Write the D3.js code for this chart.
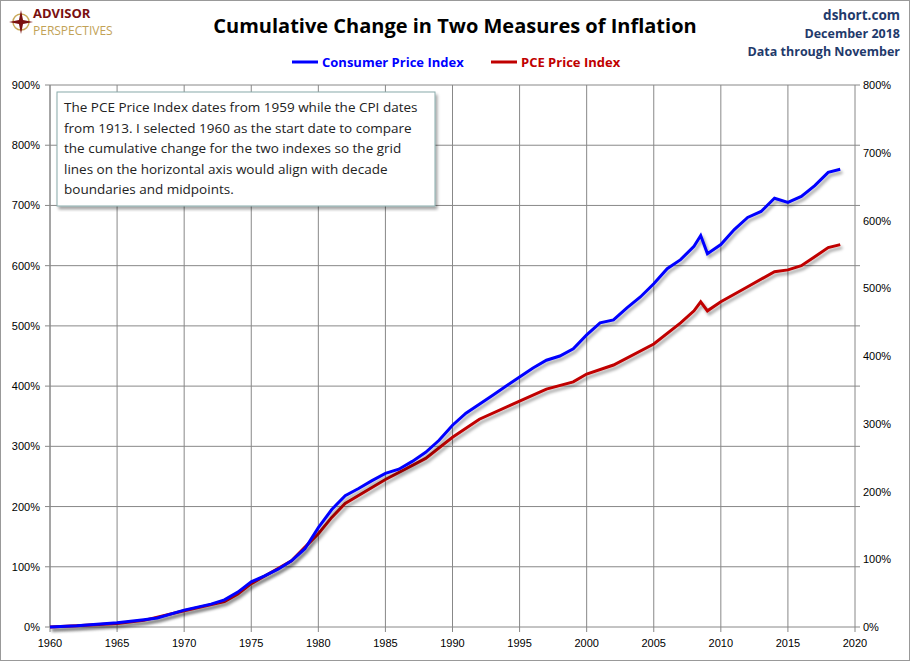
<!DOCTYPE html><html><head><meta charset="utf-8"><script src="https://cdn.jsdelivr.net/npm/d3@7"></script>
<style>body{margin:0;background:#fff;font-family:"Liberation Sans",Arial,sans-serif}</style></head><body>
<svg id="c" width="910" height="661"></svg>
<script>
const cpiYears=[1960,1962,1965,1967,1968,1970,1972,1973,1974,1975,1976,1977,1978,1979,1980,1981,1982,1983,1984,1985,1986,1987,1988,1989,1990,1991,1992,1993,1994,1995,1996,1997,1998,1999,2000,2001,2002,2003,2004,2005,2006,2007,2008,2008.5,2009,2010,2011,2012,2013,2014,2015,2016,2017,2018,2018.9];
const cpiValues=[0,2,7,12,15,28,38,45,58,75,85,96,110,130,165,195,218,230,243,255,262,275,290,310,335,355,370,385,400,415,430,443,450,462,485,505,510,530,548,570,595,610,632,650,620,635,660,680,690,712,705,715,733,755,760];
const pceYears=[1960,1962,1965,1967,1970,1973,1974,1975,1978,1980,1981,1982,1985,1988,1990,1992,1995,1997,1999,2000,2002,2005,2007,2008,2008.5,2009,2010,2012,2014,2015,2016,2017,2018,2018.9];
const pceValues=[0,2,6,11,27,42,55,72,110,155,182,205,245,280,315,345,375,395,407,420,435,470,505,525,540,525,540,565,590,593,600,615,630,635];
const xTicks=[1960,1965,1970,1975,1980,1985,1990,1995,2000,2005,2010,2015,2020];
const svg=d3.select("#c");
svg.append("rect").attr("x",0.5).attr("y",0.5).attr("width",909).attr("height",660).attr("fill","#fff").attr("stroke","#999");
const L=50,R=855,T=85,B=627;
const x=d3.scaleLinear().domain([1960,2020]).range([L,R]);
const y=d3.scaleLinear().domain([0,900]).range([B,T]);
const y2=d3.scaleLinear().domain([0,800]).range([B,T]);
const defs=svg.append("defs");
const f=defs.append("filter").attr("id","sh").attr("x","-5%").attr("y","-5%").attr("width","110%").attr("height","110%");
f.append("feDropShadow").attr("dx",2).attr("dy",3).attr("stdDeviation",1.5).attr("flood-color","#000").attr("flood-opacity",0.35);
const g=svg.append("g");
xTicks.forEach(t=>g.append("line").attr("x1",x(t)).attr("x2",x(t)).attr("y1",T).attr("y2",B+5).attr("stroke","#888"));
d3.range(0,901,100).forEach(v=>g.append("line").attr("x1",L-5).attr("x2",R+5).attr("y1",y(v)).attr("y2",y(v)).attr("stroke","#888"));
g.append("line").attr("x1",L).attr("x2",L).attr("y1",T).attr("y2",B).attr("stroke","#888");
const ax=svg.append("g").attr("font-size",11).attr("fill","#000");
xTicks.forEach(t=>ax.append("text").attr("x",x(t)).attr("y",B+20).attr("text-anchor","middle").text(t));
d3.range(0,901,100).forEach(v=>ax.append("text").attr("x",L-10).attr("y",y(v)+4).attr("text-anchor","end").text(v+"%"));
d3.range(0,801,100).forEach(v=>ax.append("text").attr("x",R+8).attr("y",y2(v)+4).attr("text-anchor","start").text(v+"%"));
const line=d3.line().x(d=>x(d[0])).y(d=>y(d[1]));
svg.append("path").datum(pceYears.map((d,i)=>[d,pceValues[i]])).attr("d",line).attr("fill","none").attr("stroke","#c00000").attr("stroke-width",3).attr("filter","url(#sh)");
svg.append("path").datum(cpiYears.map((d,i)=>[d,cpiValues[i]])).attr("d",line).attr("fill","none").attr("stroke","#0000ff").attr("stroke-width",3).attr("filter","url(#sh)");
svg.append("rect").attr("x",57).attr("y",92).attr("width",378).attr("height",114).attr("fill","#fff").attr("stroke","#8aa").attr("filter","url(#sh)");
const lines=["The PCE Price Index dates from 1959 while the CPI dates","from 1913. I selected 1960 as the start date to compare","the cumulative change for the two indexes so the grid","lines on the horizontal  axis would align with decade","boundaries and midpoints."];
lines.forEach((s,i)=>svg.append("text").attr("x",64).attr("y",112+i*20.5).attr("font-size",13.5).attr("font-family","Open Sans, sans-serif").attr("fill","#222").text(s));
svg.append("text").attr("x",455).attr("y",33).attr("text-anchor","middle").attr("font-size",20).attr("font-weight","bold").attr("font-family","Open Sans, sans-serif").text("Cumulative Change in Two Measures of Inflation");
const rt=["dshort.com","December 2018","Data through November"];
rt.forEach((s,i)=>svg.append("text").attr("x",900).attr("y",20+i*18).attr("text-anchor","end").attr("font-size",i==0?13.5:12.5).attr("font-weight","bold").attr("fill","#1f3a6b").attr("font-family","Open Sans, sans-serif").text(s));
svg.append("line").attr("x1",292).attr("x2",318).attr("y1",62).attr("y2",62).attr("stroke","#0000ff").attr("stroke-width",3);
svg.append("text").attr("x",322).attr("y",67).attr("font-size",13).attr("font-weight","bold").attr("fill","#0000ff").attr("font-family","Open Sans, sans-serif").text("Consumer Price Index");
svg.append("line").attr("x1",491).attr("x2",517).attr("y1",62).attr("y2",62).attr("stroke","#c00000").attr("stroke-width",3);
svg.append("text").attr("x",521).attr("y",67).attr("font-size",13).attr("font-weight","bold").attr("fill","#c00000").attr("font-family","Open Sans, sans-serif").text("PCE Price Index");
const lg=svg.append("g");
lg.append("circle").attr("cx",21).attr("cy",22).attr("r",8).attr("fill","none").attr("stroke","#c9a95a").attr("stroke-width",1.5);
lg.append("path").attr("d","M21,10 L23,20 L33,22 L23,24 L21,34 L19,24 L9,22 L19,20Z").attr("fill","#7a1010");
lg.append("text").attr("x",33).attr("y",18).attr("font-size",13).attr("font-weight","bold").attr("fill","#7a1010").attr("font-family","Open Sans, sans-serif").text("ADVISOR");
lg.append("text").attr("x",33).attr("y",35).attr("font-size",12).attr("fill","#c2a256").attr("font-family","Open Sans, sans-serif").text("PERSPECTIVES");
</script></body></html>
